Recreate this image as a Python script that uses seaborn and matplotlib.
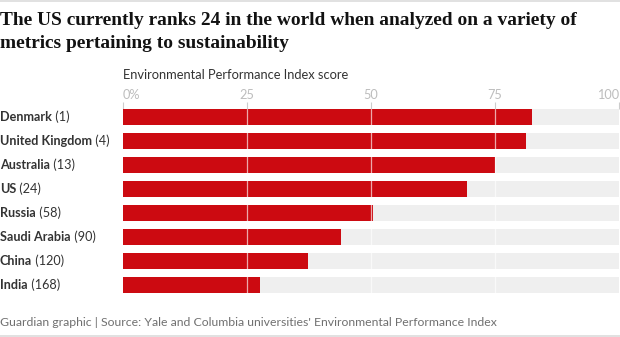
import matplotlib
matplotlib.use("Agg")
import matplotlib.pyplot as plt
from matplotlib.lines import Line2D
import seaborn as sns
import pandas as pd

# ---- data ----
countries = ["Denmark", "United Kingdom", "Australia", "US", "Russia",
             "Saudi Arabia", "China", "India"]
ranks = [1, 4, 13, 24, 58, 90, 120, 168]
scores = [82.5, 81.3, 74.9, 69.3, 50.5, 44.0, 37.3, 27.6]
tick_values = [0, 25, 50, 75, 100]
tick_labels = ["0%", "25", "50", "75", "100"]
scale_max = 100

title_lines = ["The US currently ranks 24 in the world when analyzed on a variety of",
               "metrics pertaining to sustainability"]
axis_title = "Environmental Performance Index score"
footer = "Guardian graphic | Source: Yale and Columbia universities' Environmental Performance Index"

RED = "#cc0a11"
BG = "#efefef"
DARK = "#333333"

sns.set_theme(style="white")
plt.rcParams['font.family'] = ['Lato', 'DejaVu Sans']

W, H = 620, 337
fig = plt.figure(figsize=(W / 100, H / 100), dpi=100)

n = len(countries)
row = 24.0
bar_w = 16.0 / row
ax_top = 109.3
ax_h = (n - 0.5 + bar_w / 2) * row
ax = fig.add_axes([123 / W, 1 - (ax_top + ax_h) / H, 496 / W, ax_h / H])

df = pd.DataFrame({"country": countries, "score": scores,
                   "full": [scale_max] * n})
sns.barplot(data=df, y="country", x="full", color=BG, saturation=1,
            width=bar_w, linewidth=0, ax=ax, orient="h")
sns.barplot(data=df, y="country", x="score", color=RED, saturation=1,
            width=bar_w, linewidth=0, ax=ax, orient="h")

ax.set_xlim(0, scale_max)
ax.set_ylim(n - 0.5, -bar_w / 2)
for s in ax.spines.values():
    s.set_visible(False)
ax.set_xlabel("")
ax.set_ylabel("")
ax.set_yticks([])
ax.xaxis.tick_top()
ax.set_xticks(tick_values)
ax.set_xticklabels([])
ax.tick_params(axis="x", which="both", direction="out", length=4.8,
               width=0.8, color="#cccccc", top=True, bottom=False)

# gridlines over bars
for t in tick_values[1:-1]:
    ax.axvline(t, color="white", alpha=0.65, lw=0.9, zorder=10)

# tick labels
xt = ax.get_xaxis_transform()
lab_y = 1 + (ax_top - 95) / ax_h
for i, (v, lab) in enumerate(zip(tick_values, tick_labels)):
    ha = "left" if i == 0 else ("right" if i == len(tick_values) - 1 else "center")
    ax.text(v, lab_y, lab, transform=xt, ha=ha, va="center",
            fontsize=9.2, color="#bdbdbd")

# axis title
ax.text(0, 1 + (ax_top - 75) / ax_h, axis_title, transform=xt, ha="left",
        va="center", fontsize=9.3, color=DARK)

# category labels (bold name + regular rank)
yt = ax.get_yaxis_transform()
for i, (c, r) in enumerate(zip(countries, ranks)):
    t = ax.text(-123 / 496, i, c, transform=yt, ha="left", va="center",
                fontsize=9.1, fontweight="bold", color=DARK)
    ax.annotate(f" ({r})", xy=(1, 0), xycoords=t, ha="left", va="bottom",
                fontsize=9.1, color=DARK)

# title
tfs = 13.2
t1 = fig.text(0, 1 - 25 / H, title_lines[0], ha="left", va="baseline",
              fontsize=tfs, fontweight="bold", family="Liberation Serif",
              color="#121212")
fig.canvas.draw()
w = t1.get_window_extent().width
t1.set_fontsize(tfs * 582 / w)
fig.text(0, 1 - 48 / H, title_lines[1], ha="left", va="baseline",
         fontsize=tfs * 582 / w, fontweight="bold", family="Liberation Serif",
         color="#121212")

# footer
fig.text(0, 1 - 323 / H, footer, ha="left", va="center", fontsize=8.85,
         color="#707070")

# border lines
fig.add_artist(Line2D([0, 1], [1 - 0.8 / H] * 2, transform=fig.transFigure,
                      color="#dcdcdc", lw=1.2))
fig.add_artist(Line2D([0, 1], [1 - 336.3 / H] * 2, transform=fig.transFigure,
                      color="#dcdcdc", lw=1.2))

fig.savefig("out.png", dpi=100)
